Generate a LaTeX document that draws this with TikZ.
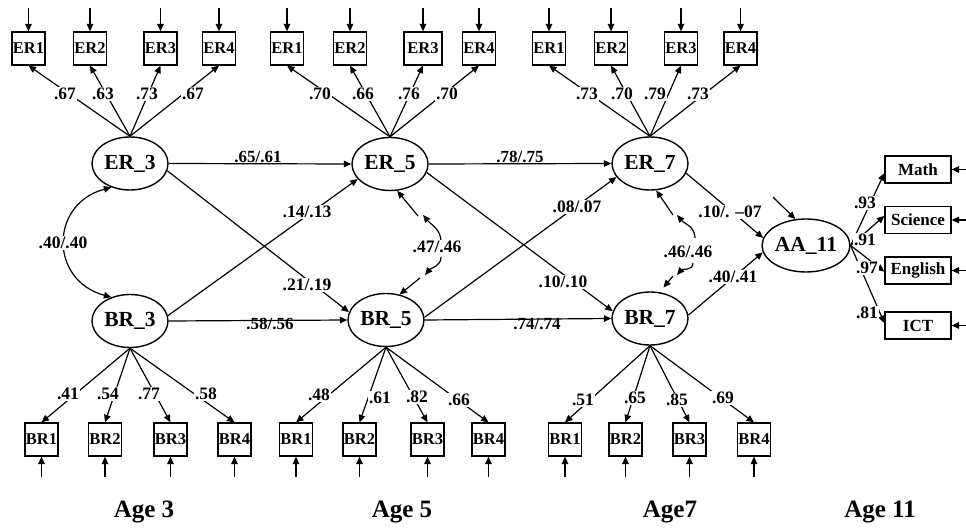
\documentclass[tikz,border=0pt]{standalone}
\usepackage{fontspec}
\setmainfont{Liberation Serif}
\usetikzlibrary{arrows.meta,shapes.geometric}
\begin{document}
\begin{tikzpicture}[x=1pt,y=1pt,
  obs/.style={draw, line width=1.2pt, minimum width=33pt, minimum height=33pt, inner sep=0pt, font=\bfseries\fontsize{16.5}{16.5}\selectfont},
  lat/.style={draw, ellipse, line width=1.4pt, minimum width=76pt, minimum height=53pt, inner sep=0pt, font=\bfseries\fontsize{21.5}{21.5}\selectfont},
  outc/.style={draw, line width=1.2pt, minimum width=66pt, minimum height=27pt, inner sep=0pt, font=\bfseries\fontsize{17}{17}\selectfont},
  lbl/.style={fill=white, inner sep=1pt, font=\bfseries\fontsize{17.5}{17.5}\selectfont},
  lbln/.style={inner sep=1pt, font=\bfseries\fontsize{17}{17}\selectfont},
  agel/.style={inner sep=0pt, font=\bfseries\fontsize{25}{25}\selectfont},
  arr/.style={line width=1.2pt, -{Triangle[length=7.5pt,width=6.5pt]}},
]
\useasboundingbox (0,0) rectangle (966,528);

% latent variables
\node[lat] (ER3) at (130,364.5) {ER\_3};
\node[lat] (BR3) at (130,207) {BR\_3};
\node[lat] (ER5) at (390,364) {ER\_5};
\node[lat] (BR5) at (386,208) {BR\_5};
\node[lat] (ER7) at (650,364.5) {ER\_7};
\node[lat] (BR7) at (650,209.5) {BR\_7};
\node[lat] (AA11) at (806,282.5) {AA\_11};

% top indicators
\foreach \n/\x/\t in {g1e1/28.5/ER1, g1e2/90/ER2, g1e3/160.5/ER3, g1e4/219/ER4,
                      g2e1/287/ER1, g2e2/350/ER2, g2e4/479/ER4,
                      g3e1/549/ER1, g3e2/611/ER2, g3e3/681/ER3, g3e4/740.5/ER4}{
  \node[obs] (\n) at (\x,479.5) {\t};
  \coordinate (\n t) at (\x,520);
  \draw[arr] (\n t) -- (\n.north);
}
\node[obs, minimum width=38pt] (g2e3) at (423,479.5) {ER3};
\coordinate (g2e3t) at (423,520);
\draw[arr] (g2e3t) -- (g2e3.north);

% bottom indicators
\foreach \n/\x/\t in {g1b1/41.5/BR1, g1b2/105/BR2, g1b3/170.5/BR3, g1b4/234.5/BR4,
                      g2b1/296/BR1, g2b2/359.5/BR2, g2b3/427.5/BR3, g2b4/488.5/BR4,
                      g3b1/565/BR1, g3b2/625.5/BR2, g3b3/689.5/BR3, g3b4/754/BR4}{
  \node[obs] (\n) at (\x,88.5) {\t};
  \coordinate (\n t) at (\x,51);
  \draw[arr] (\n t) -- (\n.south);
}

% outcome indicators
\foreach \n/\y/\t in {Math/358.5/Math, Sci/308/Science, Eng/257.5/English, ICT/202.5/ICT}{
  \node[outc] (\n) at (918,\y) {\t};
  \coordinate (\n t) at (966,\y);
  \draw[arr] (\n t) -- (\n.east);
}

% loadings
\foreach \l/\g in {ER3/g1, ER5/g2, ER7/g3}{
  \foreach \i in {1,2,3,4}{ \draw[arr] (\l.north) -- (\g e\i.south); }
}
\foreach \l/\g in {BR3/g1, BR5/g2, BR7/g3}{
  \foreach \i in {1,2,3,4}{ \draw[arr] (\l.south) -- (\g b\i.north); }
}
\draw[arr] (AA11.east) -- (Math.186);
\draw[arr] (AA11.east) -- (Sci.173);
\draw[arr] (AA11.east) -- (Eng.182);
\draw[arr] (AA11.east) -- (ICT.176);

% disturbance of AA_11
\coordinate (dAA) at (773,331);
\draw[arr] (dAA) -- (AA11.112);

% structural paths
\draw[arr] (ER3.east) -- (ER5.west);
\draw[arr] (ER5.east) -- (ER7.west);
\draw[arr] (BR3.east) -- (BR5.west);
\draw[arr] (BR5.east) -- (BR7.west);
\draw[arr] (ER3.-11) -- (BR5.168);
\draw[arr] (BR3.8) -- (ER5.205);
\draw[arr] (ER5.-13) -- (BR7.169);
\draw[arr] (BR5.4) -- (ER7.202);
\draw[arr] (ER7.-15) -- (AA11.170);
\draw[arr] (BR7.5) -- (AA11.189);

% covariances
\draw[line width=1.2pt, {Triangle[length=7.5pt,width=6.5pt]}-{Triangle[length=7.5pt,width=6.5pt]}]
  (ER3.-128) to[out=195,in=165,looseness=1.5] (BR3.128);

\coordinate (c5a) at (418,312);
\coordinate (c5b) at (441,286);
\coordinate (c5c) at (423,313);
\coordinate (c5d) at (441,271);
\coordinate (c5e) at (425,253);
\coordinate (c5f) at (420,250);
\draw[arr] (c5a) -- (ER5.-75);
\draw[arr] (c5b) to[out=90,in=-50] (c5c);
\draw[arr] (c5d) to[out=-90,in=50] (c5e);
\draw[arr] (c5f) -- (BR5.62);

\coordinate (c7a) at (673,313);
\coordinate (c7b) at (695,290);
\coordinate (c7c) at (677,313);
\coordinate (c7d) at (693,265);
\coordinate (c7e) at (677,253);
\coordinate (c7f) at (673,252);
\draw[arr] (c7a) -- (ER7.-77);
\draw[arr] (c7b) to[out=90,in=-50] (c7c);
\draw[arr] (c7d) to[out=-90,in=50] (c7e);
\draw[arr, shorten >=6pt] (c7f) -- (BR7.70);

% loading labels
\foreach \x/\t [count=\k] in {65/.67, 103/.63, 147/.73, 193/.67,
                               320/.70, 363/.66, 409/.76, 447/.70,
                               587/.73, 622/.70, 655/.79, 698/.73}{
  \node[lbl] (lt\k) at (\x,434) {\t};
}
\foreach \x/\y/\t [count=\k] in {68/134/.41, 108/134/.54, 149/134/.77, 206/134/.58,
                                 319/133/.48, 380/130/.61, 417/131/.82, 459/128/.66,
                                 583/128/.51, 635/130/.65, 677/128/.85, 723/130/.69}{
  \node[lbl] (lb\k) at (\x,\y) {\t};
}
\node[lbl] (lm1) at (865,325) {.93};
\node[lbl] (lm2) at (865,288) {.91};
\node[lbl] (lm3) at (867,260) {.97};
\node[lbl] (lm4) at (867,215) {.81};

% structural labels
\node[lbln] (s1) at (258,371) {.65/.61};
\node[lbln] (s2) at (520,371) {.78/.75};
\node[lbln] (s3) at (270,204) {.58/.56};
\node[lbln] (s4) at (537,204) {.74/.74};
\node[lbl] (s5) at (307,243) {.21/.19};
\node[lbl] (s6) at (307,316) {.14/.13};
\node[lbl] (s7) at (563,246) {.10/.10};
\node[lbl] (s8) at (577,321) {.08/.07};
\node[lbl] (s9) at (730,316) {.10/. \textendash07};
\node[lbl] (s10) at (733,251) {.40/.41};
\node[lbl] (c1) at (63,285) {.40/.40};
\node[lbl] (c2) at (437,281) {.47/.46};
\node[lbl] (c3) at (688,276) {.46/.46};

% ages
\node[agel] (a3) at (144,16) {Age 3};
\node[agel] (a5) at (402,16) {Age 5};
\node[agel] (a7) at (670,16) {Age7};
\node[agel] (a11) at (880,16) {Age 11};
\end{tikzpicture}
\end{document}
